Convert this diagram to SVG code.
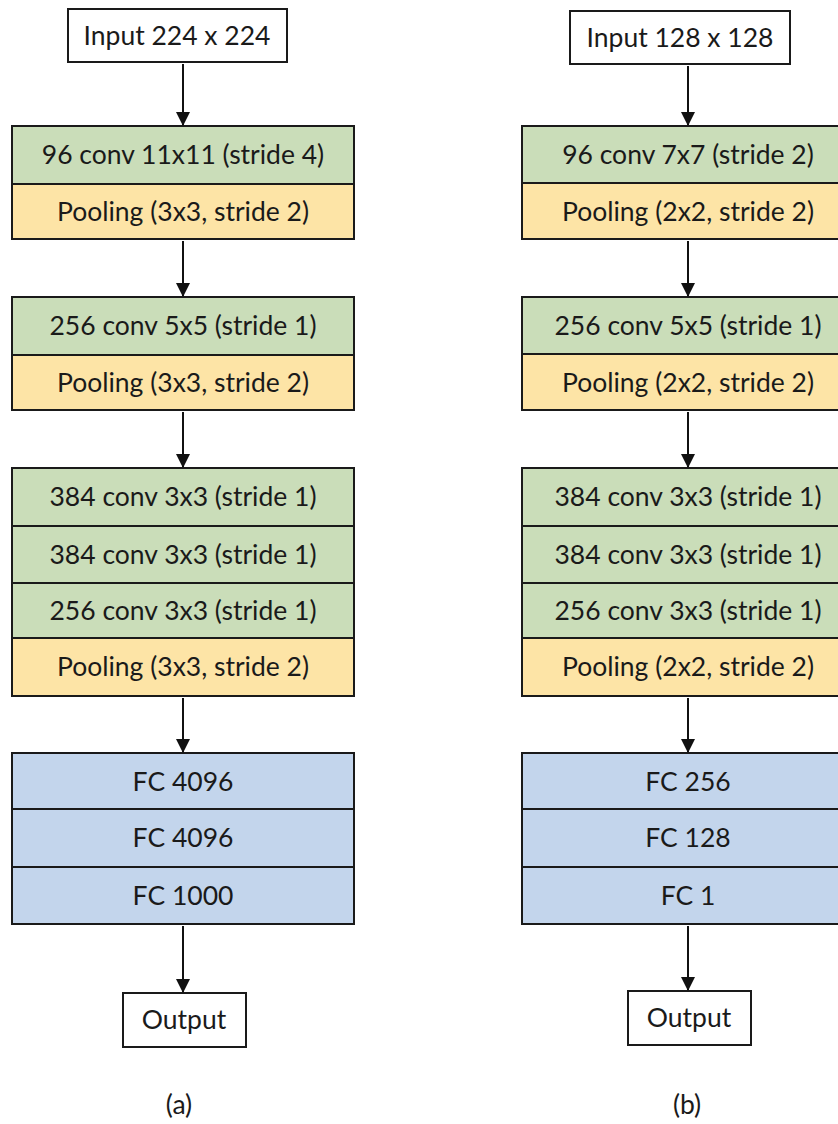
<svg xmlns="http://www.w3.org/2000/svg" width="838" height="1124" viewBox="0 0 838 1124">
<style>
.box{stroke:#1a1a1a;stroke-width:2}
.w{fill:#ffffff}
.g{fill:#CADDB9}
.y{fill:#FDE4A6}
.b{fill:#C3D5EC}
.t{font-family:Lato,"Open Sans",sans-serif;font-size:26.5px;fill:#1a1a1a;text-anchor:middle}
.c{stroke:#111;stroke-width:2;fill:none;marker-end:url(#ah)}
</style>
<defs>
<marker id="ah" markerUnits="userSpaceOnUse" markerWidth="14" markerHeight="16" refX="13" refY="7" orient="auto">
<path d="M0,0 L14,7 L0,14 Z" fill="#111"/>
</marker>
</defs>
<rect width="838" height="1124" fill="#ffffff"/>

<!-- Column (a) -->
<g id="a-input"><rect class="box w" x="68" y="9" width="219" height="53"/><text class="t" x="177" y="45">Input 224 x 224</text></g>
<g id="a-block1">
<rect class="box g" x="12" y="126" width="342" height="58"/><text class="t" x="183" y="164">96 conv 11x11 (stride 4)</text>
<rect class="box y" x="12" y="184" width="342" height="55"/><text class="t" x="183" y="221">Pooling (3x3, stride 2)</text>
</g>
<g id="a-block2">
<rect class="box g" x="12" y="297" width="342" height="58"/><text class="t" x="183" y="335">256 conv 5x5 (stride 1)</text>
<rect class="box y" x="12" y="355" width="342" height="55"/><text class="t" x="183" y="392">Pooling (3x3, stride 2)</text>
</g>
<g id="a-block3">
<rect class="box g" x="12" y="468" width="342" height="58"/><text class="t" x="183" y="506">384 conv 3x3 (stride 1)</text>
<rect class="box g" x="12" y="526" width="342" height="57"/><text class="t" x="183" y="564">384 conv 3x3 (stride 1)</text>
<rect class="box g" x="12" y="583" width="342" height="55"/><text class="t" x="183" y="620">256 conv 3x3 (stride 1)</text>
<rect class="box y" x="12" y="638" width="342" height="58"/><text class="t" x="183" y="676">Pooling (3x3, stride 2)</text>
</g>
<g id="a-fc">
<rect class="box b" x="12" y="753" width="342" height="56"/><text class="t" x="183" y="791">FC 4096</text>
<rect class="box b" x="12" y="809" width="342" height="58"/><text class="t" x="183" y="847">FC 4096</text>
<rect class="box b" x="12" y="867" width="342" height="57"/><text class="t" x="183" y="905">FC 1000</text>
</g>
<g id="a-output"><rect class="box w" x="123" y="993" width="123" height="54"/><text class="t" x="184" y="1029">Output</text></g>
<text class="t" x="179" y="1114">(a)</text>

<!-- Column (b) -->
<g id="b-input"><rect class="box w" x="570" y="11" width="220" height="53"/><text class="t" x="680" y="47">Input 128 x 128</text></g>
<g id="b-block1">
<rect class="box g" x="522" y="126" width="342" height="57"/><text class="t" x="688" y="164">96 conv 7x7 (stride 2)</text>
<rect class="box y" x="522" y="183" width="342" height="56"/><text class="t" x="688" y="221">Pooling (2x2, stride 2)</text>
</g>
<g id="b-block2">
<rect class="box g" x="522" y="297" width="342" height="57"/><text class="t" x="688" y="335">256 conv 5x5 (stride 1)</text>
<rect class="box y" x="522" y="354" width="342" height="56"/><text class="t" x="688" y="392">Pooling (2x2, stride 2)</text>
</g>
<g id="b-block3">
<rect class="box g" x="522" y="468" width="342" height="58"/><text class="t" x="688" y="506">384 conv 3x3 (stride 1)</text>
<rect class="box g" x="522" y="526" width="342" height="57"/><text class="t" x="688" y="564">384 conv 3x3 (stride 1)</text>
<rect class="box g" x="522" y="583" width="342" height="55"/><text class="t" x="688" y="620">256 conv 3x3 (stride 1)</text>
<rect class="box y" x="522" y="638" width="342" height="58"/><text class="t" x="688" y="676">Pooling (2x2, stride 2)</text>
</g>
<g id="b-fc">
<rect class="box b" x="522" y="753" width="342" height="56"/><text class="t" x="688" y="791">FC 256</text>
<rect class="box b" x="522" y="809" width="342" height="58"/><text class="t" x="688" y="847">FC 128</text>
<rect class="box b" x="522" y="867" width="342" height="57"/><text class="t" x="688" y="905">FC 1</text>
</g>
<g id="b-output"><rect class="box w" x="628" y="991" width="123" height="54"/><text class="t" x="689" y="1027">Output</text></g>
<text class="t" x="687" y="1114">(b)</text>

<g id="connectors">
<line class="c" x1="183" y1="64" x2="183" y2="125"/>
<line class="c" x1="183" y1="241" x2="183" y2="296"/>
<line class="c" x1="183" y1="412" x2="183" y2="467"/>
<line class="c" x1="183" y1="698" x2="183" y2="752"/>
<line class="c" x1="183" y1="926" x2="183" y2="992"/>
<line class="c" x1="688" y1="66" x2="688" y2="125"/>
<line class="c" x1="688" y1="241" x2="688" y2="296"/>
<line class="c" x1="688" y1="412" x2="688" y2="467"/>
<line class="c" x1="688" y1="698" x2="688" y2="752"/>
<line class="c" x1="688" y1="926" x2="688" y2="990"/>
</g>
</svg>
